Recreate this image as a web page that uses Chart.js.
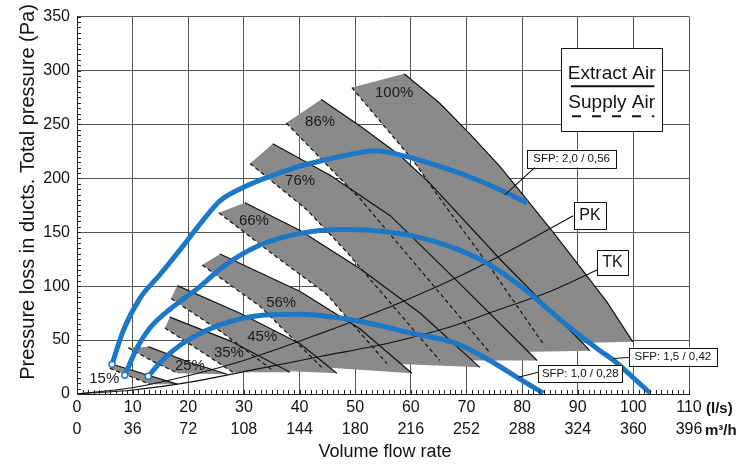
<!DOCTYPE html>
<html>
<head>
<meta charset="utf-8">
<script src="https://cdn.jsdelivr.net/npm/chart.js@4.4.1/dist/chart.umd.min.js"></script>
<style>
  html, body { margin: 0; padding: 0; background: #fff; }
  #wrap { width: 750px; height: 465px; }
</style>
</head>
<body>
<div id="wrap"><canvas id="grafico" width="750" height="465"></canvas></div>
<script>
// fan speed steps
const speeds = ['15%', '25%', '35%', '45%', '56%', '66%', '76%', '86%', '100%'];

// extract air curves (solid), [l/s, Pa]
const ext15 = [[5.9, 28.3], [18.0, 9.1]];
const ext25 = [[12.8, 43.9], [20.3, 29.2], [27.0, 18.3]];
const ext35 = [[16.7, 71.3], [27.5, 49.3], [38.3, 20.1]];
const ext45 = [[18.0, 100.5], [29.3, 74.9], [40.1, 46.6], [46.7, 19.2]];
const ext56 = [[25.7, 129.8], [40.1, 95.0], [50.9, 60.3], [60.2, 19.2]];
const ext66 = [[30.2, 177.3], [40.1, 151.7], [50.9, 116.1], [61.7, 74.9], [72.4, 24.7]];
const ext76 = [[35.2, 232.1], [45.5, 202.9], [56.3, 165.4], [68.8, 102.3], [82.7, 31.1]];
const ext86 = [[43.9, 273.2], [51.0, 248.0], [58.1, 221.0], [63.4, 195.6], [76.0, 125.2], [92.2, 40.2]];
const ext100 = [[58.8, 297.0], [65.2, 269.6], [70.6, 241.3], [76.0, 211.1], [80.9, 180.0], [85.6, 149.9],
  [90.4, 117.9], [95.3, 85.0], [99.9, 48.4]];

// supply air curves (dashed)
const sup15 = [[5.9, 23.8], [13.1, 9.1]];
const sup25 = [[9.2, 42.9], [14.0, 29.2], [18.2, 19.2]];
const sup35 = [[15.8, 61.2], [22.1, 40.2], [28.0, 20.1]];
const sup45 = [[16.9, 88.6], [25.7, 58.5], [35.2, 21.9]];
const sup56 = [[22.5, 119.7], [32.9, 81.3], [44.0, 24.7]];
const sup66 = [[25.5, 168.1], [34.7, 131.6], [44.9, 92.3], [55.7, 28.3]];
const sup76 = [[31.1, 213.8], [41.3, 170.9], [48.5, 131.6], [65.2, 31.1]];
const sup86 = [[37.6, 251.3], [50.9, 180.9], [61.7, 115.1], [74.2, 38.4]];
const sup100 = [[49.4, 284.2], [60.4, 216.6], [65.8, 177.3], [74.2, 117.9], [83.8, 46.6]];

// SFP curves
const sfp20 = [[6.3, 27.4], [8.3, 58.5], [11.3, 88.6], [14.9, 110.6], [18.9, 136.2], [22.6, 160.8], [25.7, 179.1],
  [29.3, 190.1], [32.9, 198.3], [38.8, 209.3], [44.9, 217.5], [50.9, 223.9], [53.6, 225.7], [58.6, 221.1],
  [65.2, 211.1], [71.2, 200.1], [77.3, 186.4], [80.9, 177.3]];
const sfp15 = [[8.6, 17.4], [10.8, 42.9], [13.1, 61.2], [16.7, 78.6], [22.1, 99.6], [26.2, 117.9], [32.4, 137.1],
  [40.1, 149.0], [47.3, 152.6], [53.2, 151.7], [59.9, 147.1], [68.3, 134.3], [74.2, 119.7], [80.5, 96.9],
  [85.9, 73.1], [90.9, 52.1], [94.0, 40.2], [96.7, 30.2], [99.9, 15.5], [103.0, 0.9]];
const sfp10 = [[12.8, 16.4], [15.3, 31.1], [18.9, 46.6], [23.0, 58.5], [28.4, 68.5], [33.3, 73.1], [40.1, 74.0],
  [47.3, 70.4], [53.2, 64.9], [59.9, 56.7], [68.3, 46.6], [74.2, 31.1], [79.1, 15.5], [83.8, 0.9]];

// system curves
const pk = [[0, 0], [10.1, 6], [20.3, 17.4], [31.1, 33], [43.7, 56], [56.3, 81], [67.0, 105], [76.0, 128], [89.2, 165.4]];
const tk = [[0, 0], [10.1, 3.7], [20.3, 11], [31.1, 21.9], [43.7, 34.7], [56.3, 47.5], [67.0, 62.1], [76.0, 78.6], [85.0, 95.0], [93.5, 115.1]];

// axis ticks
const flowTicks = [0, 10, 20, 30, 40, 50, 60, 70, 80, 90, 100, 110];
const flowM3h = [0, 36, 72, 108, 144, 180, 216, 252, 288, 324, 360, 396];
const pressureTicks = [0, 50, 100, 150, 200, 250, 300, 350];

const extract = [ext15, ext25, ext35, ext45, ext56, ext66, ext76, ext86, ext100];
const supply = [sup15, sup25, sup35, sup45, sup56, sup66, sup76, sup86, sup100];

const FONT = "'Liberation Sans', Arial, sans-serif";
const BLUE = '#1c78c6';

function pts(arr) {
  return arr.map(p => ({ x: p[0], y: p[1] }));
}

let datasets = [];

// gray areas
for (let i = 0; i < speeds.length; i++) {
  const poly = [supply[i][0]].concat(extract[i], supply[i].slice().reverse());
  datasets.push({
    data: pts(poly), fill: 'shape', backgroundColor: '#8a8a8a',
    borderWidth: 0, pointRadius: 0, tension: 0, order: 6
  });
}
// extract / supply lines
for (let i = 0; i < speeds.length; i++) {
  datasets.push({
    data: pts(extract[i]), borderColor: '#111', borderWidth: 1.2,
    fill: false, pointRadius: 0, tension: 0, order: 5
  });
  datasets.push({
    data: pts(supply[i]), borderColor: '#111', borderWidth: 1.2, borderDash: [4, 3],
    fill: false, pointRadius: 0, tension: 0, order: 5
  });
}
// PK / TK
[pk, tk].forEach(c => {
  datasets.push({
    data: pts(c), borderColor: '#111', borderWidth: 1.1, fill: false,
    pointRadius: 0, cubicInterpolationMode: 'monotone', order: 4
  });
});
// SFP curves
[sfp20, sfp15, sfp10].forEach(c => {
  datasets.push({
    data: pts(c), borderColor: BLUE, borderWidth: 5, fill: false,
    cubicInterpolationMode: 'monotone', order: 1,
    pointRadius: ctx => ctx.dataIndex === 0 ? 3 : 0,
    pointBackgroundColor: '#fff', pointBorderColor: BLUE, pointBorderWidth: 1.5
  });
});

// label positions (data units)
const pctPos = [[4.9, 13.7], [20.3, 26.5], [27.3, 38.4], [33.3, 53.0], [36.7, 84.1], [31.8, 160.8], [40.1, 197.4], [43.7, 252.2], [57.0, 279.6]];

function box(ctx, x1, y1, x2, y2) {
  ctx.fillStyle = '#fff';
  ctx.fillRect(x1, y1, x2 - x1, y2 - y1);
  ctx.strokeStyle = '#111';
  ctx.lineWidth = 1;
  ctx.strokeRect(Math.round(x1) + 0.5, Math.round(y1) + 0.5, Math.round(x2 - x1), Math.round(y2 - y1));
}

const extras = {
  id: 'extras',
  afterDatasetsDraw(chart) {
    const ctx = chart.ctx;
    const xs = chart.scales.x, ys = chart.scales.y;
    const X = v => xs.getPixelForValue(v);
    const Y = v => ys.getPixelForValue(v);
    const ca = chart.chartArea;

    ctx.save();
    // minor ticks
    ctx.strokeStyle = '#222';
    ctx.lineWidth = 1;
    ctx.beginPath();
    for (let v = 0; v <= 110; v += 1) {
      const px = Math.round(X(v)) + 0.5;
      ctx.moveTo(px, ca.bottom);
      ctx.lineTo(px, ca.bottom - 4);
    }
    for (let v = 0; v <= 350; v += 5) {
      const py = Math.round(Y(v)) + 0.5;
      ctx.moveTo(ca.left, py);
      ctx.lineTo(ca.left + 4, py);
    }
    ctx.stroke();

    // percentage labels
    ctx.fillStyle = '#1a1a1a';
    ctx.font = '15px ' + FONT;
    ctx.textAlign = 'center';
    ctx.textBaseline = 'middle';
    speeds.forEach((s, i) => ctx.fillText(s, X(pctPos[i][0]), Y(pctPos[i][1])));

    // leader lines
    ctx.strokeStyle = '#111';
    ctx.lineWidth = 1.1;
    ctx.beginPath();
    ctx.moveTo(X(82.3), Y(210.2)); ctx.lineTo(X(76.9), Y(184.6));
    ctx.moveTo(X(99.2), Y(33.8)); ctx.lineTo(X(96.3), Y(32.9));
    ctx.moveTo(X(82.9), Y(20.1)); ctx.lineTo(X(79.3), Y(15.5));
    ctx.stroke();

    // SFP boxes
    const sfpBoxes = [
      ['SFP: 2,0 / 0,56', 80.9, 226.6, 96.9, 210.2],
      ['SFP: 1,5 / 0,42', 99.2, 42.9, 115.0, 26.5],
      ['SFP: 1,0 / 0,28', 82.9, 26.5, 98.0, 11.0]
    ];
    sfpBoxes.forEach(b => {
      box(ctx, X(b[1]), Y(b[2]), X(b[3]), Y(b[4]));
      ctx.fillStyle = '#111';
      ctx.font = '11.5px ' + FONT;
      ctx.fillText(b[0], (X(b[1]) + X(b[3])) / 2, (Y(b[2]) + Y(b[4])) / 2 + 0.5);
    });

    // PK / TK boxes
    [['PK', 89.3, 178.2, 95.1, 153.5], ['TK', 93.5, 133.4, 99.0, 110.6]].forEach(b => {
      box(ctx, X(b[1]), Y(b[2]), X(b[3]), Y(b[4]));
      ctx.fillStyle = '#111';
      ctx.font = '16px ' + FONT;
      ctx.fillText(b[0], (X(b[1]) + X(b[3])) / 2, (Y(b[2]) + Y(b[4])) / 2 + 0.5);
    });

    // legend
    const lx = X(87.0), ly = Y(320.7), rx = X(105.2), ry = Y(243.9);
    box(ctx, lx, ly, rx, ry);
    ctx.fillStyle = '#111';
    ctx.font = '19px ' + FONT;
    const cx = (lx + rx) / 2;
    ctx.fillText('Extract Air', cx, ly + 26);
    ctx.fillText('Supply Air', cx, ly + 55);
    ctx.lineWidth = 2;
    ctx.beginPath();
    ctx.moveTo(lx + 10, ly + 38); ctx.lineTo(rx - 8, ly + 38);
    ctx.stroke();
    ctx.setLineDash([9, 11]);
    ctx.beginPath();
    ctx.moveTo(lx + 11, ly + 68); ctx.lineTo(rx - 8, ly + 68);
    ctx.stroke();
    ctx.setLineDash([]);

    // axis titles and units
    ctx.font = '18px ' + FONT;
    ctx.fillText('Volume flow rate', (ca.left + ca.right) / 2 + 2, 452);
    ctx.save();
    ctx.translate(28, 192);
    ctx.rotate(-Math.PI / 2);
    ctx.font = '20px ' + FONT;
    ctx.fillText('Pressure loss in ducts. Total pressure (Pa)', 0, 0);
    ctx.restore();
    ctx.font = 'bold 15px ' + FONT;
    ctx.textAlign = 'left';
    ctx.fillText('(l/s)', 706, 409);
    ctx.fillText('m³/h', 705, 431);
    ctx.restore();
  }
};

const chart = new Chart(document.getElementById('grafico').getContext('2d'), {
  type: 'line',
  data: { datasets: datasets },
  plugins: [extras],
  options: {
    responsive: false,
    devicePixelRatio: 1,
    animation: false,
    layout: { padding: { left: 0, right: 61, top: 11, bottom: 0 } },
    plugins: { legend: { display: false }, tooltip: { enabled: false } },
    scales: {
      x: {
        type: 'linear', min: 0, max: 110,
        afterBuildTicks: s => { s.ticks = flowTicks.map(v => ({ value: v })); },
        afterFit: s => { s.height = 71; },
        ticks: {
          autoSkip: false, maxRotation: 0, padding: 3, color: '#111',
          font: { family: FONT, size: 16, lineHeight: 1.35 },
          callback: (v, i) => [String(flowTicks[i]), String(flowM3h[i])]
        },
        grid: { color: '#555', lineWidth: 1, drawTicks: false },
        border: { color: '#222', width: 1 }
      },
      y: {
        type: 'linear', min: 0, max: 350,
        afterBuildTicks: s => { s.ticks = pressureTicks.map(v => ({ value: v })); },
        afterFit: s => { s.width = 77; },
        ticks: {
          padding: 7, color: '#111',
          font: { family: FONT, size: 16 },
          callback: (v, i) => String(pressureTicks[i])
        },
        grid: { color: '#555', lineWidth: 1, drawTicks: false },
        border: { color: '#222', width: 1 }
      }
    }
  }
});
</script>
</body>
</html>
